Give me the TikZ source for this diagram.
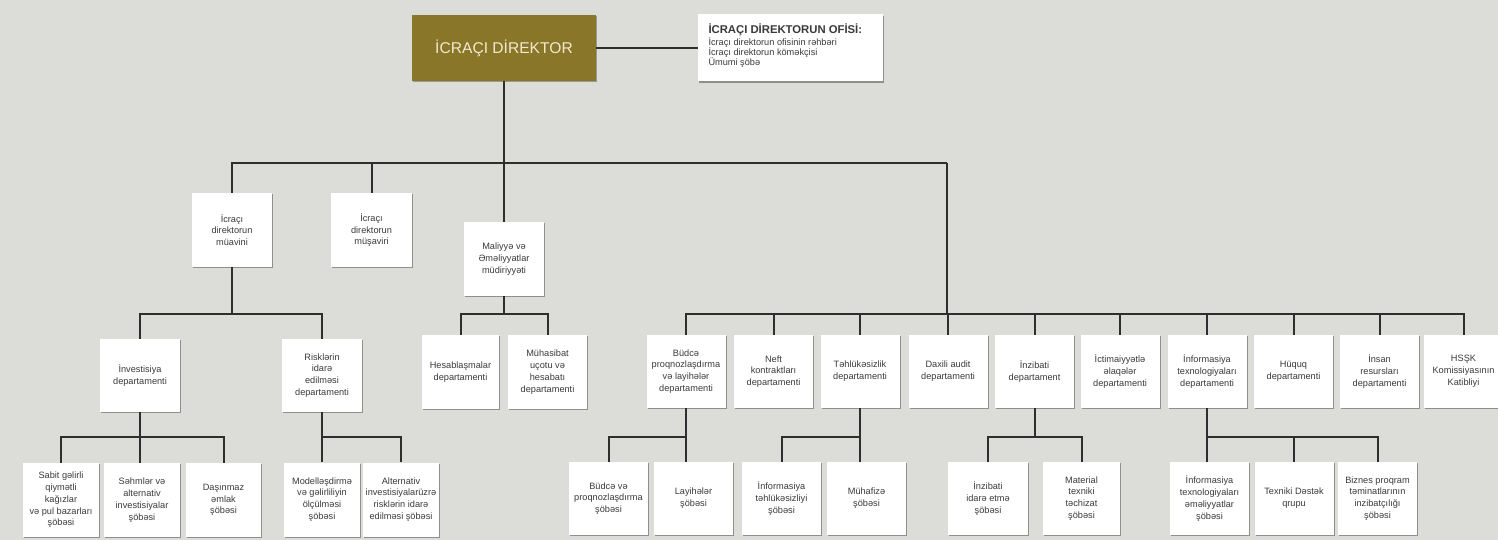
\documentclass[tikz,border=0pt]{standalone}
\usepackage{fontspec}
\setmainfont{Liberation Sans}
\usetikzlibrary{shadows}
\definecolor{bgc}{HTML}{DCDCD9}
\definecolor{olive}{HTML}{8A7628}
\definecolor{cream}{HTML}{F2EAD0}
\definecolor{linec}{HTML}{2E2E2E}
\definecolor{txt}{HTML}{3A3A3A}
\tikzset{
  box/.style={draw=none, fill=white, align=center, inner sep=1pt,
    minimum width=79pt, minimum height=73pt, text=txt,
    font=\fontsize{9.2}{11.8}\selectfont,
    drop shadow={shadow xshift=1.2pt, shadow yshift=-1.2pt, fill=black, opacity=.35}},
  dirbox/.style={fill=olive, minimum width=184pt, minimum height=66pt, text=cream,
    font=\fontsize{15.6}{17}\selectfont,
    drop shadow={shadow xshift=1.2pt, shadow yshift=-1.2pt, fill=black, opacity=.3}},
  officebox/.style={fill=white, minimum width=185pt, minimum height=67pt,
    inner xsep=10.5pt, inner ysep=6.5pt, text=txt, font=\fontsize{9.2}{10}\selectfont,
    drop shadow={shadow xshift=1.2pt, shadow yshift=-1.2pt, fill=black, opacity=.35}},
  conn/.style={draw=linec, line width=2pt}
}
\begin{document}
\begin{tikzpicture}[x=1pt,y=-1pt]
\useasboundingbox (0,0) rectangle (1498,540);
\fill[bgc] (0,0) rectangle (1498,540);
% level coordinates
\coordinate (L1) at (0,163);
\coordinate (L2) at (0,314);
\coordinate (L3) at (0,436.5);
\coordinate (rj) at (946.5,163);
% top
\node[dirbox] (dir) at (504,48) {İCRAÇI DİREKTOR};
\node[officebox] (office) at (790.5,48) {\parbox[c][48pt][t]{164pt}{\raggedright
{\fontsize{11.3}{12}\selectfont\bfseries İCRAÇI DİREKTORUN OFİSİ:}\\
İcraçı direktorun ofisinin rəhbəri\\İcraçı direktorun köməkçisi\\Ümumi şöbə}};
% level 1
\node[box, minimum width=80pt, minimum height=74pt] (muavin) at (232,230) {İcraçı\\direktorun\\müavini};
\node[box, minimum width=81pt, minimum height=74pt] (musavir) at (371.5,230) {İcraçı\\direktorun\\müşaviri};
\node[box, minimum width=80pt, minimum height=74pt] (maliyye) at (504,259) {Maliyyə və\\Əməliyyatlar\\müdiriyyəti};
% left level 2
\node[box, minimum width=80pt] (invest) at (140,375.5) {İnvestisiya\\departamenti};
\node[box, minimum width=80pt] (risk) at (322,375.5) {Risklərin\\idarə\\edilməsi\\departamenti};
% left level 3
\node[box, minimum width=76pt, minimum height=74pt] (sabit) at (61,500) {Sabit gəlirli\\qiymətli\\kağızlar\\və pul bazarları\\şöbəsi};
\node[box, minimum width=76pt, minimum height=74pt] (sehm) at (142,500) {Səhmlər və\\alternativ\\investisiyalar\\şöbəsi};
\node[box, minimum width=75pt, minimum height=74pt] (dasin) at (223.5,500) {Daşınmaz\\əmlak\\şöbəsi};
\node[box, minimum width=76pt, minimum height=74pt] (model) at (322,499.5) {Modelləşdirmə\\və gəlirliliyin\\ölçülməsi\\şöbəsi};
\node[box, minimum width=76pt, minimum height=74pt] (altinv) at (401,499.5) {Alternativ\\investisiyalarüzrə\\risklərin idarə\\edilməsi şöbəsi};
% maliyye level 2
\node[box, minimum width=77pt, minimum height=74pt] (hesab) at (460.5,372) {Hesablaşmalar\\departamenti};
\node[box, minimum width=79pt, minimum height=74pt] (muhas) at (547.5,372) {Mühasibat\\uçotu və\\hesabatı\\departamenti};
% right level 2
\node[box] (budce) at (686,371.5) {Büdcə\\proqnozlaşdırma\\və layihələr\\departamenti};
\node[box] (neft) at (773.5,371.5) {Neft\\kontraktları\\departamenti};
\node[box] (tehl) at (860,371.5) {Təhlükəsizlik\\departamenti};
\node[box] (audit) at (948,371.5) {Daxili audit\\departamenti};
\node[box] (inzib) at (1034.5,371.5) {İnzibati\\departament};
\node[box] (ictim) at (1120,371.5) {İctimaiyyətlə\\əlaqələr\\departamenti};
\node[box] (it) at (1207,371.5) {İnformasiya\\texnologiyaları\\departamenti};
\node[box] (huquq) at (1293.5,371.5) {Hüquq\\departamenti};
\node[box] (insan) at (1379.5,371.5) {İnsan\\resursları\\departamenti};
\node[box] (hssk) at (1463.5,371.5) {HSŞK\\Komissiyasının\\Katibliyi};
% right level 3
\node[box] (bp) at (608.5,498.5) {Büdcə və\\proqnozlaşdırma\\şöbəsi};
\node[box] (lay) at (693.5,498.5) {Layihələr\\şöbəsi};
\node[box] (infoteh) at (781.5,498.5) {İnformasiya\\təhlükəsizliyi\\şöbəsi};
\node[box] (muhaf) at (866.5,498.5) {Mühafizə\\şöbəsi};
\node[box, minimum width=80pt] (inzidare) at (988,498.5) {İnzibati\\idarə etmə\\şöbəsi};
\node[box, minimum width=77pt] (maddi) at (1081.5,498.5) {Material\\texniki\\təchizat\\şöbəsi};
\node[box] (itemel) at (1209.5,498.5) {İnformasiya\\texnologiyaları\\əməliyyatlar\\şöbəsi};
\node[box] (texniki) at (1294,498.5) {Texniki Dəstək\\qrupu};
\node[box] (biznes) at (1377.5,498.5) {Biznes proqram\\təminatlarının\\inzibatçılığı\\şöbəsi};

% connectors: top
\draw[conn] (dir.east) -- (office.west);
\draw[conn] (dir.south) -- (maliyye.north);
\draw[conn] (muavin.north) |- (rj);
\draw[conn] (musavir.north) -- (musavir.north |- L1);
\draw[conn] (rj) -- (rj |- L2);
% left subtree
\draw[conn] (muavin.south) -- (muavin.south |- L2);
\draw[conn] (invest.north) |- (risk.north |- L2) -- (risk.north);
\draw[conn] (invest.south) -- (sehm.north -| invest.south);
\draw[conn] (sabit.north) |- (dasin.north |- L3) -- (dasin.north);
\draw[conn] (risk.south) -- (model.north);
\draw[conn] (risk.south |- L3) -| (altinv.north);
% maliyye subtree
\draw[conn] (maliyye.south) -- (maliyye.south |- L2);
\draw[conn] (hesab.north) |- (muhas.north |- L2) -- (muhas.north);
% right row
\draw[conn] (budce.north) |- (hssk.north |- L2) -- (hssk.north);
\foreach \n in {neft,tehl,audit,inzib,ictim,it,huquq,insan}
  \draw[conn] (\n.north) -- (\n.north |- L2);
% right level 3
\draw[conn] (budce.south) -- (budce.south |- lay.north);
\draw[conn] (bp.north) |- (budce.south |- L3);
\draw[conn] (tehl.south) -- (tehl.south |- muhaf.north);
\draw[conn] (infoteh.north) |- (tehl.south |- L3);
\draw[conn] (inzib.south) -- (inzib.south |- L3);
\draw[conn] (inzidare.north) |- (maddi.north |- L3) -- (maddi.north);
\draw[conn] (it.south) -- (it.south |- itemel.north);
\draw[conn] (it.south |- L3) -| (biznes.north);
\draw[conn] (texniki.north) -- (texniki.north |- L3);
\end{tikzpicture}
\end{document}
